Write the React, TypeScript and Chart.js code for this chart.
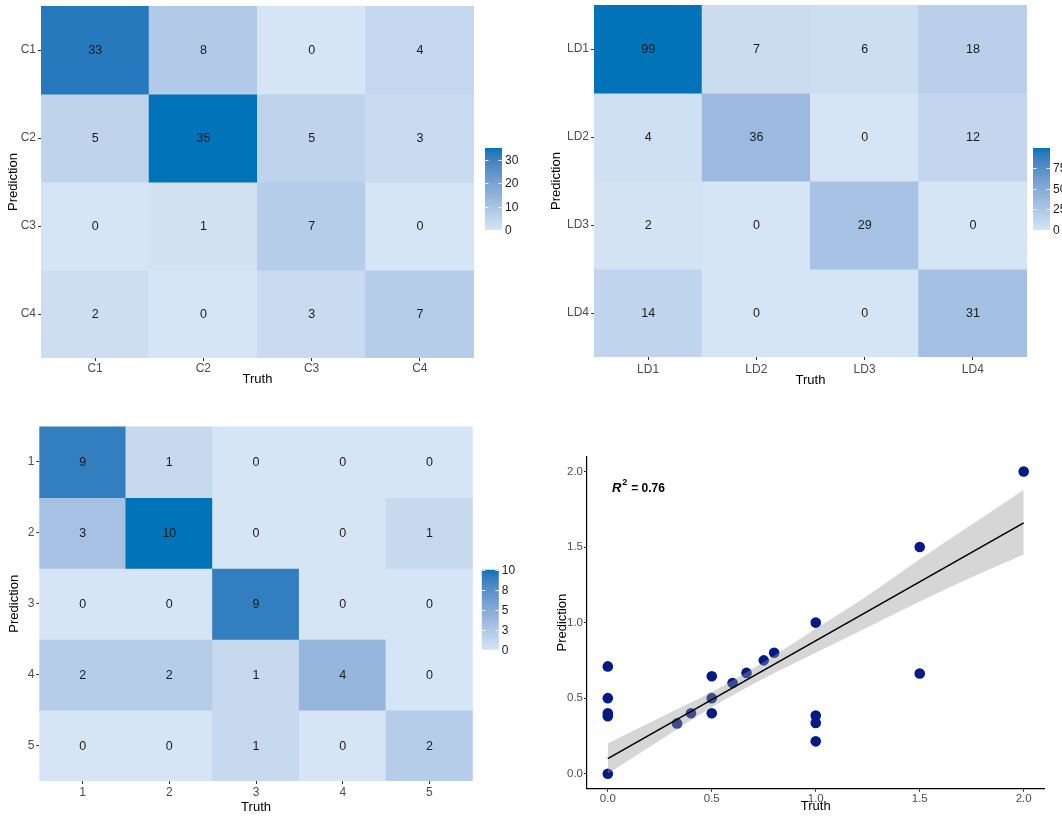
import React, { useEffect, useRef } from "react";
import { Chart, registerables } from "chart.js";

Chart.register(...registerables);

const FONT = "'Liberation Sans', Arial, Helvetica, sans-serif";

// ---------------- data ----------------
// Panel 1 (C classes)
const cTruth = ["C1", "C2", "C3", "C4"];
const cPred = ["C1", "C2", "C3", "C4"];
const cValues = [
  [33, 8, 0, 4],
  [5, 35, 5, 3],
  [0, 1, 7, 0],
  [2, 0, 3, 7],
];
const cLegendTicks = [0, 10, 20, 30];
const cLegendLabels = ["0", "10", "20", "30"];

// Panel 2 (LD classes)
const ldTruth = ["LD1", "LD2", "LD3", "LD4"];
const ldPred = ["LD1", "LD2", "LD3", "LD4"];
const ldValues = [
  [99, 7, 6, 18],
  [4, 36, 0, 12],
  [2, 0, 29, 0],
  [14, 0, 0, 31],
];
const ldLegendTicks = [0, 25, 50, 75];
const ldLegendLabels = ["0", "25", "50", "75"];

// Panel 3 (numeric classes)
const nTruth = ["1", "2", "3", "4", "5"];
const nPred = ["1", "2", "3", "4", "5"];
const nValues = [
  [9, 1, 0, 0, 0],
  [3, 10, 0, 0, 1],
  [0, 0, 9, 0, 0],
  [2, 2, 1, 4, 0],
  [0, 0, 1, 0, 2],
];
const nLegendTicks = [0, 2.5, 5, 7.5, 10];
const nLegendLabels = ["0", "3", "5", "8", "10"];

// Panel 4 (scatter)
const scatterTruth = [0, 0, 0, 0, 0, 0.333, 0.4, 0.5, 0.5, 0.5, 0.6, 0.667, 0.75, 0.8, 1.0, 1.0, 1.0, 1.0, 1.5, 1.5, 2.0];
const scatterPred = [0.71, 0.5, 0.4, 0.38, 0.0, 0.333, 0.4, 0.645, 0.5, 0.4, 0.6, 0.667, 0.75, 0.8, 1.0, 0.385, 0.336, 0.214, 1.5, 0.663, 2.0];
const fitX = [0, 2.0];
const fitY = [0.1, 1.66];
const bandX = [0, 0.25, 0.5, 0.75, 1.0, 1.25, 1.5, 1.75, 2.0];
const bandUpper = [0.2, 0.37, 0.54, 0.74, 0.96, 1.18, 1.42, 1.65, 1.88];
const bandLower = [0.0, 0.22, 0.44, 0.63, 0.8, 0.97, 1.14, 1.3, 1.45];
const scatterTicks = [0, 0.5, 1.0, 1.5, 2.0];
const r2Value = "0.76";

// ---------------- colour scale (Lab interpolation like ggplot) ----------------
const LOW = [214, 229, 245];
const HIGH = [0, 115, 185];

function srgbToLin(c: number) {
  c /= 255;
  return c <= 0.04045 ? c / 12.92 : Math.pow((c + 0.055) / 1.055, 2.4);
}
function linToSrgb(c: number) {
  const v = c <= 0.0031308 ? 12.92 * c : 1.055 * Math.pow(c, 1 / 2.4) - 0.055;
  return Math.round(Math.max(0, Math.min(1, v)) * 255);
}
function rgbToLab(rgb: number[]) {
  const R = srgbToLin(rgb[0]), G = srgbToLin(rgb[1]), B = srgbToLin(rgb[2]);
  const X = (R * 0.4124 + G * 0.3576 + B * 0.1805) / 0.95047;
  const Y = R * 0.2126 + G * 0.7152 + B * 0.0722;
  const Z = (R * 0.0193 + G * 0.1192 + B * 0.9505) / 1.08883;
  const f = (t: number) => (t > 0.008856 ? Math.cbrt(t) : 7.787 * t + 16 / 116);
  const fx = f(X), fy = f(Y), fz = f(Z);
  return [116 * fy - 16, 500 * (fx - fy), 200 * (fy - fz)];
}
function labToRgb(lab: number[]) {
  const fy = (lab[0] + 16) / 116, fx = fy + lab[1] / 500, fz = fy - lab[2] / 200;
  const finv = (t: number) => {
    const t3 = t * t * t;
    return t3 > 0.008856 ? t3 : (t - 16 / 116) / 7.787;
  };
  const X = finv(fx) * 0.95047, Y = finv(fy), Z = finv(fz) * 1.08883;
  const R = X * 3.2406 + Y * -1.5372 + Z * -0.4986;
  const G = X * -0.9689 + Y * 1.8758 + Z * 0.0415;
  const B = X * 0.0557 + Y * -0.204 + Z * 1.057;
  return [linToSrgb(R), linToSrgb(G), linToSrgb(B)];
}
const LOW_LAB = rgbToLab(LOW);
const HIGH_LAB = rgbToLab(HIGH);
function fillColor(t: number) {
  const u = Math.max(0, Math.min(1, t));
  const lab = LOW_LAB.map((v, i) => v + (HIGH_LAB[i] - v) * u);
  const c = labToRgb(lab);
  return `rgb(${c[0]},${c[1]},${c[2]})`;
}

// ---------------- layout helpers ----------------
type Rect = { left: number; top: number; width: number; height: number };
type Area = { left: number; right: number; top: number; bottom: number };

const TITLE_SIZE = 13;
const TITLE_LH = TITLE_SIZE * 1.2;

function computeLayout(cv: Rect, area: Area, yTitleX: number, xTitleY: number) {
  const padLeft = yTitleX - cv.left - TITLE_LH / 2;
  const yWidth = area.left - cv.left - padLeft;
  const scaleBottom = xTitleY - cv.top + TITLE_LH / 2;
  const xHeight = scaleBottom - (area.bottom - cv.top);
  const padBottom = cv.height - scaleBottom;
  const padTop = area.top - cv.top;
  const padRight = cv.left + cv.width - area.right;
  return { padLeft, padRight, padTop, padBottom, yWidth, xHeight };
}

type HeatCfg = {
  truth: string[];
  pred: string[];
  values: number[][];
  legendTicks: number[];
  legendLabels: string[];
  canvas: Rect;
  area: Area;
  yTitleX: number;
  xTitleY: number;
  xTickPad: number;
  bar: { gap: number; dy: number; h: number };
};

function HeatmapPanel({ cfg }: { cfg: HeatCfg }) {
  const ref = useRef<HTMLCanvasElement>(null);
  useEffect(() => {
    const canvas = ref.current!;
    const L = computeLayout(cfg.canvas, cfg.area, cfg.yTitleX, cfg.xTitleY);
    const vmax = Math.max(...cfg.values.flat());
    const nRows = cfg.pred.length;

    const datasets = cfg.pred.map((_, r) => ({
      data: cfg.values[r].map(() => [r, r + 1]),
      backgroundColor: cfg.values[r].map((v) => fillColor(v / vmax)),
      borderWidth: 0,
      barPercentage: 1,
      categoryPercentage: 1,
      grouped: false,
      inflateAmount: 0.5,
    }));

    const cellText = {
      id: "cellText",
      afterDatasetsDraw(chart: any) {
        const ctx = chart.ctx;
        ctx.save();
        ctx.font = `12.5px ${FONT}`;
        ctx.fillStyle = "#1a1a1a";
        ctx.textAlign = "center";
        ctx.textBaseline = "middle";
        chart.data.datasets.forEach((_: any, r: number) => {
          const meta = chart.getDatasetMeta(r);
          meta.data.forEach((el: any, c: number) => {
            const p = el.getProps(["x", "y", "base"], true);
            ctx.fillText(String(cfg.values[r][c]), p.x, (p.y + p.base) / 2 + 0.5);
          });
        });
        ctx.restore();
      },
    };

    const colorBar = {
      id: "colorBar",
      afterDraw(chart: any) {
        const ctx = chart.ctx;
        const a = chart.chartArea;
        const bw = 17;
        const bh = cfg.bar.h;
        const bx = a.right + cfg.bar.gap;
        const cy = (a.top + a.bottom) / 2 + cfg.bar.dy;
        const y0 = cy - bh / 2;
        const y1 = cy + bh / 2;
        ctx.save();
        const grad = ctx.createLinearGradient(0, y1, 0, y0);
        for (let i = 0; i <= 20; i++) grad.addColorStop(i / 20, fillColor(i / 20));
        ctx.fillStyle = grad;
        ctx.fillRect(bx, y0, bw, bh);
        ctx.font = `12px ${FONT}`;
        ctx.textAlign = "left";
        ctx.textBaseline = "middle";
        cfg.legendTicks.forEach((v, i) => {
          const y = Math.round(y1 - (v / vmax) * bh) + 0.5;
          ctx.strokeStyle = "rgba(255,255,255,0.85)";
          ctx.lineWidth = 1;
          ctx.beginPath();
          ctx.moveTo(bx, y);
          ctx.lineTo(bx + 3.5, y);
          ctx.moveTo(bx + bw - 3.5, y);
          ctx.lineTo(bx + bw, y);
          ctx.stroke();
          ctx.fillStyle = "#1a1a1a";
          ctx.fillText(cfg.legendLabels[i], bx + bw + 3, y);
        });
        ctx.restore();
      },
    };

    const chart = new Chart(canvas, {
      type: "bar",
      data: { labels: cfg.truth, datasets: datasets as any },
      options: {
        animation: false,
        responsive: false,
        maintainAspectRatio: false,
        layout: { padding: { left: L.padLeft, right: L.padRight, top: L.padTop, bottom: L.padBottom } },
        plugins: { legend: { display: false }, tooltip: { enabled: false } },
        scales: {
          x: {
            type: "category",
            offset: true,
            grid: { offset: false, drawOnChartArea: false, drawTicks: true, tickLength: 3, tickColor: "#333", color: "#333" },
            border: { display: false },
            ticks: { color: "#4d4d4d", font: { family: FONT, size: 12 }, padding: cfg.xTickPad, maxRotation: 0, autoSkip: false },
            title: { display: true, text: "Truth", color: "#000", font: { family: FONT, size: TITLE_SIZE }, padding: 0 },
            afterFit: (s: any) => {
              s.height = L.xHeight;
              s.paddingLeft = 0;
              s.paddingRight = 0;
            },
          },
          y: {
            type: "linear",
            min: 0,
            max: nRows,
            reverse: true,
            afterBuildTicks: (s: any) => {
              s.ticks = cfg.pred.map((_, i) => ({ value: i + 0.5 }));
            },
            grid: { drawOnChartArea: false, drawTicks: true, tickLength: 3, tickColor: "#333", color: "#333" },
            border: { display: false },
            ticks: {
              color: "#4d4d4d",
              font: { family: FONT, size: 12 },
              padding: 2,
              autoSkip: false,
              callback: (_v: any, i: number) => cfg.pred[i],
            },
            title: { display: true, text: "Prediction", color: "#000", font: { family: FONT, size: TITLE_SIZE }, padding: 0 },
            afterFit: (s: any) => {
              s.width = L.yWidth;
              s.paddingTop = 0;
              s.paddingBottom = 0;
            },
          },
        },
      },
      plugins: [cellText, colorBar],
    });
    return () => chart.destroy();
  }, []);
  const c = cfg.canvas;
  return (
    <canvas
      ref={ref}
      width={c.width}
      height={c.height}
      style={{ position: "absolute", left: c.left, top: c.top, width: c.width, height: c.height }}
    />
  );
}

function ScatterPanel() {
  const ref = useRef<HTMLCanvasElement>(null);
  const cv: Rect = { left: 531, top: 410, width: 531, height: 407 };
  useEffect(() => {
    const canvas = ref.current!;
    const L = computeLayout(cv, { left: 587, right: 1044.5, top: 456.4, bottom: 788.8 }, 562, 806);

    const r2Label = {
      id: "r2Label",
      afterDatasetsDraw(chart: any) {
        const { ctx } = chart;
        const xs = chart.scales.x;
        const ys = chart.scales.y;
        const px = xs.getPixelForValue(0.02);
        const py = ys.getPixelForValue(1.885);
        ctx.save();
        ctx.fillStyle = "#000";
        ctx.textAlign = "left";
        ctx.textBaseline = "middle";
        ctx.font = `italic bold 13px ${FONT}`;
        ctx.fillText("R", px, py);
        const w1 = ctx.measureText("R").width;
        ctx.font = `bold 9px ${FONT}`;
        ctx.fillText("2", px + w1 + 1, py - 6);
        const w2 = ctx.measureText("2").width;
        ctx.font = `bold 12px ${FONT}`;
        ctx.fillText(" = " + r2Value, px + w1 + w2 + 1.5, py);
        ctx.restore();
      },
    };

    const tickCfg = {
      color: "#4d4d4d",
      font: { family: FONT, size: 11.5 },
      autoSkip: false,
      callback: (v: any) => Number(v).toFixed(1),
    };

    const chart = new Chart(canvas, {
      type: "scatter",
      data: {
        datasets: [
          {
            type: "line",
            data: fitX.map((x, i) => ({ x, y: fitY[i] })),
            borderColor: "#000",
            borderWidth: 1.6,
            pointRadius: 0,
            fill: false,
            order: 0,
          },
          {
            type: "line",
            data: bandX.map((x, i) => ({ x, y: bandUpper[i] })),
            borderColor: "rgba(0,0,0,0)",
            borderWidth: 0,
            pointRadius: 0,
            fill: false,
            cubicInterpolationMode: "monotone",
            order: 1,
          },
          {
            type: "line",
            data: bandX.map((x, i) => ({ x, y: bandLower[i] })),
            borderColor: "rgba(0,0,0,0)",
            borderWidth: 0,
            pointRadius: 0,
            fill: "-1",
            backgroundColor: "rgba(153,153,153,0.4)",
            cubicInterpolationMode: "monotone",
            order: 2,
          },
          {
            type: "scatter",
            data: scatterTruth.map((x, i) => ({ x, y: scatterPred[i] })),
            backgroundColor: "rgb(6,26,133)",
            borderWidth: 0,
            pointRadius: 5.3,
            order: 3,
          },
        ] as any,
      },
      options: {
        animation: false,
        responsive: false,
        maintainAspectRatio: false,
        layout: { padding: { left: L.padLeft, right: L.padRight, top: L.padTop, bottom: L.padBottom } },
        plugins: { legend: { display: false }, tooltip: { enabled: false } },
        scales: {
          x: {
            type: "linear",
            min: -0.1,
            max: 2.1,
            afterBuildTicks: (s: any) => {
              s.ticks = scatterTicks.map((v) => ({ value: v }));
            },
            grid: { drawOnChartArea: false, drawTicks: true, tickLength: 3, tickColor: "#333", color: "#333" },
            border: { display: true, color: "#000", width: 1.2 },
            ticks: { ...tickCfg, padding: 0, maxRotation: 0 },
            title: { display: true, text: "Truth", color: "#000", font: { family: FONT, size: TITLE_SIZE }, padding: 0 },
            afterFit: (s: any) => {
              s.height = L.xHeight;
            },
          },
          y: {
            type: "linear",
            min: -0.1,
            max: 2.1,
            afterBuildTicks: (s: any) => {
              s.ticks = scatterTicks.map((v) => ({ value: v }));
            },
            grid: { drawOnChartArea: false, drawTicks: true, tickLength: 3, tickColor: "#333", color: "#333" },
            border: { display: true, color: "#000", width: 1.2 },
            ticks: { ...tickCfg, padding: 1 },
            title: { display: true, text: "Prediction", color: "#000", font: { family: FONT, size: TITLE_SIZE }, padding: 0 },
            afterFit: (s: any) => {
              s.width = L.yWidth;
            },
          },
        },
      },
      plugins: [r2Label],
    });
    return () => chart.destroy();
  }, []);
  return (
    <canvas
      ref={ref}
      width={cv.width}
      height={cv.height}
      style={{ position: "absolute", left: cv.left, top: cv.top, width: cv.width, height: cv.height }}
    />
  );
}

const panelC: HeatCfg = {
  truth: cTruth,
  pred: cPred,
  values: cValues,
  legendTicks: cLegendTicks,
  legendLabels: cLegendLabels,
  canvas: { left: 0, top: 0, width: 531, height: 410 },
  area: { left: 41, right: 474, top: 6, bottom: 358 },
  yTitleX: 13.5,
  xTitleY: 379,
  xTickPad: 0,
  bar: { gap: 11, dy: 7, h: 82 },
};

const panelLD: HeatCfg = {
  truth: ldTruth,
  pred: ldPred,
  values: ldValues,
  legendTicks: ldLegendTicks,
  legendLabels: ldLegendLabels,
  canvas: { left: 531, top: 0, width: 531, height: 410 },
  area: { left: 594, right: 1027, top: 5, bottom: 357 },
  yTitleX: 556,
  xTitleY: 380,
  xTickPad: 2,
  bar: { gap: 6, dy: 8, h: 82 },
};

const panelN: HeatCfg = {
  truth: nTruth,
  pred: nPred,
  values: nValues,
  legendTicks: nLegendTicks,
  legendLabels: nLegendLabels,
  canvas: { left: 0, top: 410, width: 531, height: 407 },
  area: { left: 39.3, right: 472.8, top: 426.5, bottom: 781 },
  yTitleX: 14,
  xTitleY: 807,
  xTickPad: 1,
  bar: { gap: 9, dy: 6, h: 80 },
};

export default function App() {
  useEffect(() => {
    document.body.style.margin = "0";
  }, []);
  return (
    <div
      style={{
        position: "absolute",
        left: 0,
        top: 0,
        width: 1062,
        height: 817,
        overflow: "hidden",
        background: "#ffffff",
      }}
    >
      <HeatmapPanel cfg={panelC} />
      <HeatmapPanel cfg={panelLD} />
      <HeatmapPanel cfg={panelN} />
      <ScatterPanel />
    </div>
  );
}
